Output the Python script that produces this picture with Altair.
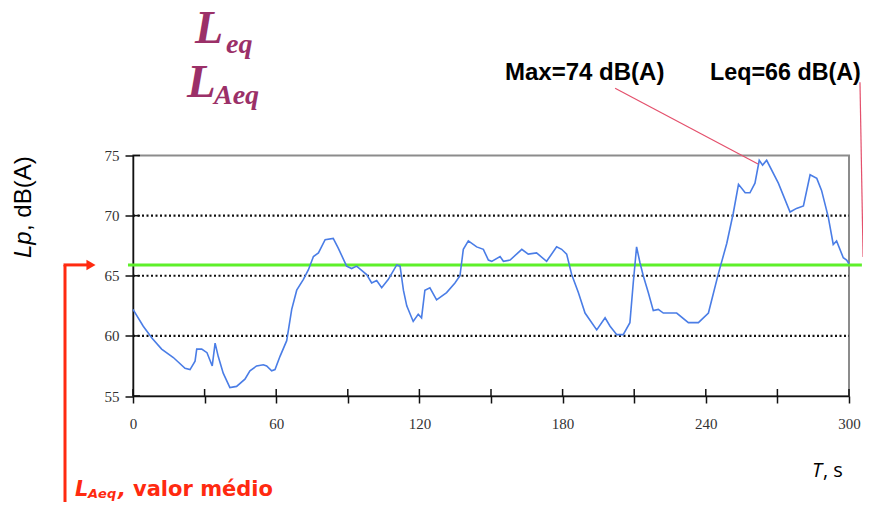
import altair as alt
import pandas as pd

# ---- data ----
T_S = [0, 4.3, 8, 12, 16.9, 21.8, 23.9, 26, 26.7, 28.8, 31, 33.2, 34.4, 35.7, 37.8, 40.6,
       43.4, 46.9, 49, 51.8, 54.6, 56, 58.1, 59.5, 61.6, 64.4, 66.5, 68.6, 71.4, 73.5,
       75.6, 77.7, 80.5, 83.9, 86, 89.5, 91.6, 93.7, 97.9, 100, 102.1, 104.2, 107, 110.5,
       111.9, 113.3, 114.7, 117.4, 119.5, 120.9, 122.3, 124.4, 127.2, 131.4, 134.9, 137,
       138.4, 140.5, 144, 146.8, 148.9, 150.3, 153.8, 155.2, 158, 162.9, 165.6, 169.1,
       173.3, 177.5, 179.6, 181.7, 183.8, 186.6, 189.4, 194.3, 197.8, 199.9, 202.7, 205.4,
       208.2, 209.6, 211, 212.4, 213.8, 215.9, 218, 220.1, 222.2, 227.8, 232.7, 236.9,
       241.1, 242.5, 245.3, 248.8, 251.5, 253.7, 256.5, 258.5, 260.6, 262.4, 263.8, 265.5,
       270.4, 275.3, 278, 280.9, 283.7, 286.5, 288.5, 291.3, 293.4, 294.8, 297.6, 299, 300]
LP_DBA = [62.2, 60.8, 59.8, 58.9, 58.2, 57.3, 57.2, 57.9, 58.9, 58.9, 58.6, 57.5, 59.4, 58.3,
          56.9, 55.7, 55.8, 56.4, 57.1, 57.5, 57.6, 57.5, 57.1, 57.2, 58.3, 59.6, 62.2, 63.8,
          64.7, 65.5, 66.6, 66.9, 68.0, 68.1, 67.3, 65.8, 65.6, 65.8, 65.1, 64.4, 64.6, 64.0,
          64.7, 65.9, 65.8, 63.8, 62.5, 61.2, 61.8, 61.5, 63.8, 64.0, 63.0, 63.6, 64.4, 65.0,
          67.2, 67.9, 67.4, 67.2, 66.3, 66.2, 66.6, 66.2, 66.3, 67.2, 66.8, 66.9, 66.2, 67.4,
          67.2, 66.8, 65.1, 63.6, 61.9, 60.5, 61.5, 60.8, 60.1, 60.1, 61.1, 64.4, 67.4, 66.1,
          65.0, 63.6, 62.1, 62.2, 61.9, 61.9, 61.1, 61.1, 61.9, 63.0, 65.2, 67.7, 70.2, 72.6,
          71.9, 71.9, 72.7, 74.6, 74.2, 74.6, 72.7, 70.3, 70.6, 70.8, 73.4, 73.1, 72.1, 69.9,
          67.6, 67.9, 66.5, 66.3, 66.0]

X_TICKS = [0, 30, 60, 90, 120, 150, 180, 210, 240, 270, 300]
Y_TICKS = [55, 60, 65, 70, 75]
GRID_Y = [60, 65, 70]
LEQ = 65.9

W, H = 716, 240.5

xs = alt.Scale(domain=[0, 300], nice=False, zero=False)
ys = alt.Scale(domain=[55, 75], nice=False, zero=False)

curve = pd.DataFrame({"t": T_S, "lp": LP_DBA})

base_axis = dict(domainColor="#111", domainWidth=1.5, tickColor="#111", tickWidth=1.5,
                 grid=False, labelFont="Liberation Serif", labelFontSize=15,
                 labelColor="#333", labelFlush=False, title=None)

line = alt.Chart(curve).mark_line(color="#4a7de6", strokeWidth=1.6).encode(
    x=alt.X("t:Q", scale=xs, axis=alt.Axis(values=X_TICKS, tickSize=7, labelPadding=13,
            labelExpr="datum.value % 60 == 0 ? datum.label : ''", **base_axis)),
    y=alt.Y("lp:Q", scale=ys, axis=alt.Axis(values=Y_TICKS, tickSize=8, labelPadding=6,
            **base_axis)),
)

grid = alt.Chart(pd.DataFrame({"g": GRID_Y})).mark_rule(
    color="#111", strokeWidth=2.2, strokeDash=[2, 2.5]).encode(
    y=alt.Y("g:Q", scale=ys), x=alt.value(0), x2=alt.value(W))

xin = alt.Chart(pd.DataFrame({"t": X_TICKS})).mark_rule(color="#111", strokeWidth=1.5).encode(
    x=alt.X("t:Q", scale=xs), y=alt.value(H), y2=alt.value(H - 7))
yin = alt.Chart(pd.DataFrame({"v": Y_TICKS})).mark_rule(color="#111", strokeWidth=1.5).encode(
    y=alt.Y("v:Q", scale=ys), x=alt.value(0), x2=alt.value(7))

green = alt.Chart(pd.DataFrame({"x1": [-2.1], "x2": [305.4], "y": [LEQ]})).mark_rule(
    color="#5ef02a", strokeWidth=3).encode(
    x=alt.X("x1:Q", scale=xs), x2="x2:Q", y=alt.Y("y:Q", scale=ys))

ann = pd.DataFrame({"x1": [202.0, 304.6], "y1": [80.6, 81.1],
                    "x2": [261.9, 305.9], "y2": [74.3, 66.56]})
ann_lines = alt.Chart(ann).mark_rule(color="#e4506c", strokeWidth=1.2).encode(
    x=alt.X("x1:Q", scale=xs), y=alt.Y("y1:Q", scale=ys), x2="x2:Q", y2="y2:Q")

red = "#ff2a10"
arrow_v = alt.Chart(pd.DataFrame({"y": [LEQ]})).mark_rule(color=red, strokeWidth=3).encode(
    x=alt.value(-68), y=alt.Y("y:Q", scale=ys), y2=alt.value(H + 130))
arrow_h = alt.Chart(pd.DataFrame({"y": [LEQ]})).mark_rule(color=red, strokeWidth=3).encode(
    x=alt.value(-69.5), x2=alt.value(-46), y=alt.Y("y:Q", scale=ys))
arrow_head = alt.Chart(pd.DataFrame({"y": [LEQ]})).mark_point(
    shape="triangle-right", filled=True, color=red, opacity=1, size=110).encode(
    x=alt.value(-42), y=alt.Y("y:Q", scale=ys))

one = pd.DataFrame({"a": [0]})


def txt(s, x, y, size, color="#000", font="Liberation Sans", weight="normal",
        style="normal", angle=0, align="left", baseline="alphabetic"):
    return alt.Chart(one).mark_text(
        text=s, font=font, fontSize=size, fontWeight=weight, fontStyle=style,
        color=color, angle=angle, align=align, baseline=baseline).encode(
        x=alt.value(x), y=alt.value(y))


maroon = "#9b3068"
texts = [
    txt("L", 62, -113, 46, maroon, "Liberation Serif", "bold", "italic"),
    txt("eq", 93, -102.5, 28, maroon, "Liberation Serif", "bold", "italic"),
    txt("L", 54, -58.5, 47, maroon, "Liberation Serif", "bold", "italic"),
    txt("Aeq", 81, -51.5, 28, maroon, "Liberation Serif", "bold", "italic"),
    txt("Max=74 dB(A)", 372, -75.5, 24, "#000", "Liberation Sans", "bold"),
    txt("Leq=66 dB(A)", 577, -75.5, 23.3, "#000", "Liberation Sans", "bold"),
    txt("Lp", -102, 102.5, 24, "#000", "Liberation Sans", "normal", "italic", angle=270),
    txt(", dB(A)", -102, 75.5, 24, "#000", "Liberation Sans", "normal", "normal", angle=270),
    txt("T", 679, 321.5, 20, "#000", "Open Sans", "normal", "italic"),
    txt(", s", 690, 321.5, 20, "#000", "Open Sans", "normal"),
    txt("L", -58, 340.5, 21, red, "DejaVu Sans", "bold", "italic"),
    txt("Aeq", -45, 342, 13, red, "DejaVu Sans", "bold", "italic"),
    txt(",", -15, 340.5, 21, red, "DejaVu Sans", "bold", "italic"),
    txt("valor médio", 0, 340.5, 21, red, "DejaVu Sans", "bold"),
]

chart = alt.layer(grid, green, line, xin, yin, ann_lines, arrow_v, arrow_h, arrow_head,
                  *texts).properties(
    width=W, height=H, autosize="none",
    padding={"left": 125, "top": 147.5, "right": 14, "bottom": 106},
).configure_view(stroke="#8c8c8c", strokeWidth=2)

chart.save("out.html", embed_options={"renderer": "svg", "actions": False})
